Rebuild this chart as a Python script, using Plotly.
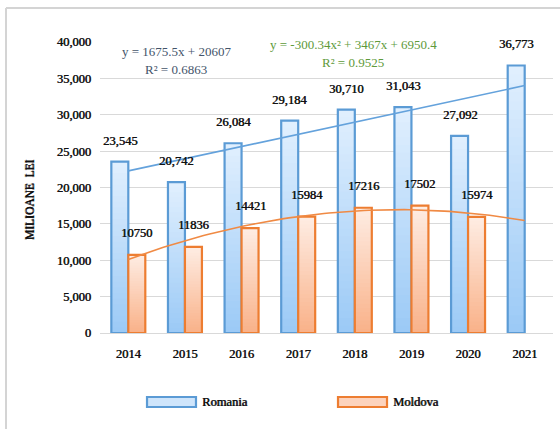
import numpy as np
import plotly.graph_objects as go

years = ["2014", "2015", "2016", "2017", "2018", "2019", "2020", "2021"]
romania = [23545, 20742, 26084, 29184, 30710, 31043, 27092, 36773]
moldova = [10750, 11836, 14421, 15984, 17216, 17502, 15974, None]
romania_labels = ["23,545", "20,742", "26,084", "29,184", "30,710", "31,043", "27,092", "36,773"]
moldova_labels = ["10750", "11836", "14421", "15984", "17216", "17502", "15974", ""]
y_ticks = [0, 5000, 10000, 15000, 20000, 25000, 30000, 35000, 40000]
eq_romania = ["y = 1675.5x + 20607", "R² = 0.6863"]
eq_moldova = ["y = -300.34x² + 3467x + 6950.4", "R² = 0.9525"]

FONT = "Liberation Serif"
BOLD_SHADOW = "0.55px 0 0 #111111"
xpos = list(range(len(years)))
BW = 0.3
K = 30


def bold_font(size):
    return dict(family=FONT, size=size, color="#111111", shadow=BOLD_SHADOW)


def lerp(c1, c2, t):
    return "rgb(%d,%d,%d)" % tuple(round(a + (b - a) * t) for a, b in zip(c1, c2))


series = [
    ("Romania", romania, -BW, (156, 202, 246), (224, 239, 254), "#5b9bd5"),
    ("Moldova", moldova, 0.0, (249, 178, 138), (254, 236, 226), "#ed7d31"),
]

fig = go.Figure()

# gradient-filled bars: overlapping layers, each reaching the bar's value
for name, vals, off, cbot, ctop, cline in series:
    xs = [x for x, v in zip(xpos, vals) if v is not None]
    vs = [v for v in vals if v is not None]
    for i in range(K):
        fig.add_trace(go.Bar(
            x=xs, y=[v * (K - i) / K for v in vs], base=[v * i / K for v in vs],
            width=BW, offset=off,
            marker=dict(color=lerp(cbot, ctop, i / (K - 1)), line=dict(width=0)),
            showlegend=False, hoverinfo="skip"))
    fig.add_trace(go.Bar(
        x=xs, y=vs, width=BW, offset=off, name=name,
        marker=dict(color="rgba(0,0,0,0)", line=dict(color=cline, width=2.2)),
        showlegend=False))

# trendlines fitted from the data
xr = np.array(xpos, dtype=float)
c1 = np.polyfit(xr, np.array(romania, dtype=float), 1)
xm = np.array([x for x, v in zip(xpos, moldova) if v is not None], dtype=float)
ym = np.array([v for v in moldova if v is not None], dtype=float)
c2 = np.polyfit(xm, ym, 2)
xx = np.linspace(0, len(years) - 1, 80)
fig.add_trace(go.Scatter(x=xx, y=np.polyval(c1, xx), mode="lines",
                         line=dict(color="#64a2dc", width=1.6), showlegend=False, hoverinfo="skip"))
fig.add_trace(go.Scatter(x=xx, y=np.polyval(c2, xx), mode="lines",
                         line=dict(color="#f08a44", width=1.6), showlegend=False, hoverinfo="skip"))

annotations = []
for x, v, t in zip(xpos, romania, romania_labels):
    annotations.append(dict(x=x - BW / 2, y=v, text=t, showarrow=False,
                            yshift=21, font=bold_font(12.5), xanchor="center", yanchor="middle"))
for x, v, t in zip(xpos, moldova, moldova_labels):
    if v is None:
        continue
    annotations.append(dict(x=x + BW / 2, y=v, text=t, showarrow=False,
                            yshift=22, font=bold_font(12.5), xanchor="center", yanchor="middle"))

# trendline equations
eq_font_r = dict(family=FONT, size=13, color="#44546a")
eq_font_m = dict(family=FONT, size=13, color="#5e9a3a")
for xp, yp, t, f in [(0.168, 0.966, eq_romania[0], eq_font_r),
                     (0.168, 0.907, eq_romania[1], eq_font_r),
                     (0.559, 0.990, eq_moldova[0], eq_font_m),
                     (0.559, 0.931, eq_moldova[1], eq_font_m)]:
    annotations.append(dict(xref="paper", yref="paper", x=xp, y=yp, text=t, showarrow=False,
                            xanchor="center", yanchor="middle", font=f))

# y-axis title
annotations.append(dict(xref="paper", yref="paper", x=-0.1545, y=0.457,
                        text="MILIOANE\u00a0\u00a0LEI", textangle=-90, showarrow=False,
                        xanchor="center", yanchor="middle",
                        font=dict(family=FONT, size=11.5, color="#111111",
                                  shadow="0.5px 0 0 #111111, 0 -0.5px 0 #111111")))

# custom legend
shapes = [
    dict(type="rect", xref="paper", yref="paper", x0=0.1038, x1=0.2119, y0=-0.2543, y1=-0.2199,
         fillcolor="#cfe5fb", line=dict(color="#5b9bd5", width=2.2)),
    dict(type="rect", xref="paper", yref="paper", x0=0.5254, x1=0.6336, y0=-0.2543, y1=-0.2199,
         fillcolor="#fcd3bd", line=dict(color="#ed7d31", width=2.2)),
    # outer frame (top and left edges)
    dict(type="line", xref="paper", yref="paper", x0=-0.2075, x1=1.03, y0=1.1168, y1=1.1168,
         line=dict(color="#d4d4d4", width=2)),
    dict(type="line", xref="paper", yref="paper", x0=-0.2075, x1=-0.2075, y0=1.1168, y1=-0.35,
         line=dict(color="#d4d4d4", width=2)),
]
annotations += [
    dict(xref="paper", yref="paper", x=0.2208, y=-0.237, text="Romania", showarrow=False,
         xanchor="left", yanchor="middle", font=bold_font(12.5)),
    dict(xref="paper", yref="paper", x=0.6424, y=-0.237, text="Moldova", showarrow=False,
         xanchor="left", yanchor="middle", font=bold_font(12.5)),
]

fig.update_layout(
    width=560, height=429,
    margin=dict(l=100, r=7, t=42, b=96),
    paper_bgcolor="white", plot_bgcolor="white",
    barmode="overlay",
    showlegend=False,
    annotations=annotations,
    shapes=shapes,
    xaxis=dict(range=[-0.5, len(years) - 0.5], tickvals=xpos, ticktext=years,
               showgrid=False, zeroline=False, showline=True, linecolor="#d9d9d9", linewidth=1,
               ticks="", ticklabelstandoff=9, tickfont=bold_font(12.5)),
    yaxis=dict(range=[0, 40000], tickvals=y_ticks,
               ticktext=["{:,}".format(v) for v in y_ticks],
               showgrid=True, gridcolor="#d9d9d9", gridwidth=1, zeroline=False, showline=False,
               ticks="", ticklabelstandoff=8, tickfont=bold_font(12.5)),
)

fig.write_html("out.html", config={"displayModeBar": False},
               post_script="document.body.style.margin='0';")
